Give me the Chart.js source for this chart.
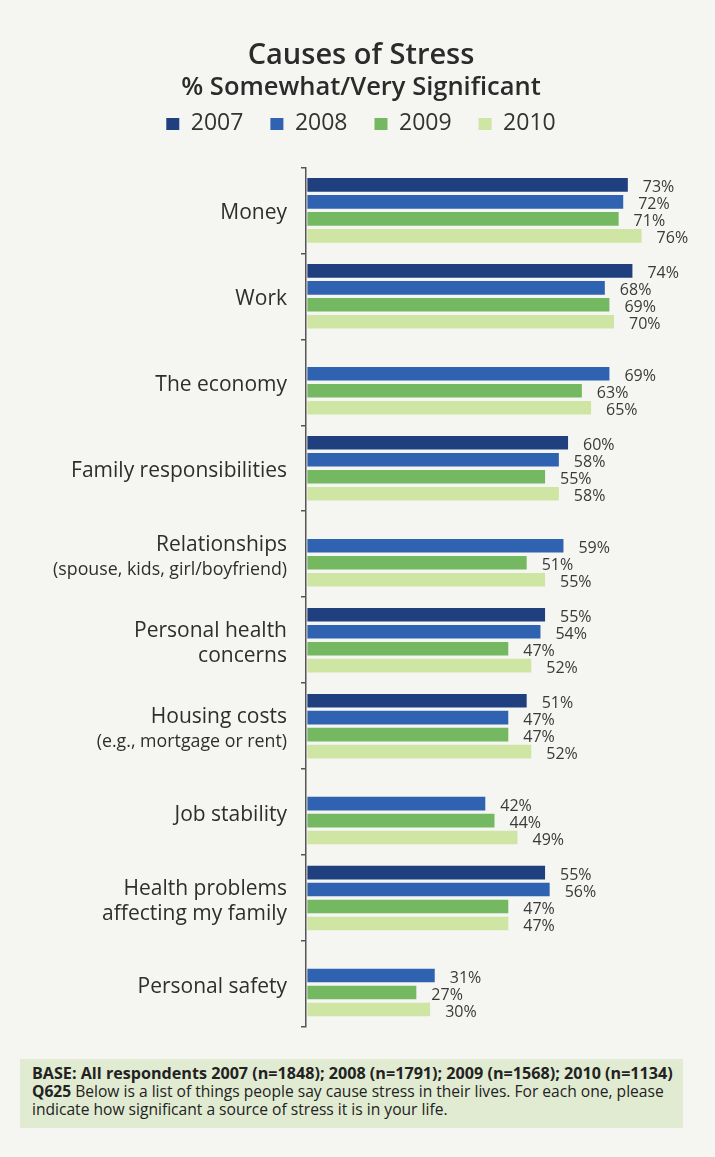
<!DOCTYPE html>
<html lang="en">
<head>
  <meta charset="UTF-8">
  <title>Causes of Stress</title>
  <script src="https://cdn.jsdelivr.net/npm/chart.js"></script>
  <style>
    html, body { margin: 0; padding: 0; background: #f5f5f2; }
    body { width: 715px; height: 1157px; position: relative; overflow: hidden; }
    #wrap { position: absolute; left: 0; top: 0; width: 715px; height: 1157px; }
    .note {
      position: absolute; left: 20px; top: 1059px; width: 663px; height: 69px;
      background: #e1ebd2; padding: 5px 0 0 12px; box-sizing: border-box;
      font-family: "Open Sans", "Noto Sans", sans-serif;
      color: #222; line-height: 18px; white-space: nowrap;
    }
    .note div { font-size: 15px; }
    .note b { font-weight: bold; }
  </style>
</head>
<body>
  <div id="wrap"><canvas id="stressChart" width="715" height="1157"></canvas></div>
  <div class="note">
    <div data-w="641"><b>BASE: All respondents 2007 (n=1848); 2008 (n=1791); 2009 (n=1568); 2010 (n=1134)</b></div>
    <div data-w="632"><b>Q625</b> Below is a list of things people say cause stress in their lives. For each one, please<br>indicate how significant a source of stress it is in your life.</div>
  </div>

  <script>
    const categories = [
      ['Money'],
      ['Work'],
      ['The economy'],
      ['Family responsibilities'],
      ['Relationships', '(spouse, kids, girl/boyfriend)'],
      ['Personal health', 'concerns'],
      ['Housing costs', '(e.g., mortgage or rent)'],
      ['Job stability'],
      ['Health problems', 'affecting my family'],
      ['Personal safety']
    ];
    const years = ['2007', '2008', '2009', '2010'];
    const v2007 = [73, 74, null, 60, null, 55, 51, null, 55, null];
    const v2008 = [72, 68, 69, 58, 59, 54, 47, 42, 56, 31];
    const v2009 = [71, 69, 63, 55, 51, 47, 47, 44, 47, 27];
    const v2010 = [76, 70, 65, 58, 55, 52, 52, 49, 47, 30];

    const colors = ['#1f3f7f', '#2f63b1', '#74b862', '#cfe5a4'];
    const FONT = '"Open Sans", "Noto Sans", sans-serif';
    // second lines in parentheses are printed smaller
    const smallLines = ['(spouse, kids, girl/boyfriend)', '(e.g., mortgage or rent)'];

    const X_MIN = 3.0;

    // squeeze the footer lines to the printed widths
    document.querySelectorAll('.note div').forEach(el => {
      const probe = document.createElement('span');
      probe.innerHTML = el.innerHTML.split('<br>')[0];
      probe.style.whiteSpace = 'nowrap';
      el.appendChild(probe);
      const w = probe.getBoundingClientRect().width;
      el.removeChild(probe);
      el.style.fontSize = (15 * (+el.dataset.w) / w).toFixed(2) + 'px';
    });

    // category names drawn at the left of the axis
    const categoryLabels = {
      id: 'categoryLabels',
      afterDraw(chart) {
        const ctx = chart.ctx;
        const y = chart.scales.y;
        ctx.save();
        ctx.fillStyle = '#2e2e2e';
        ctx.textAlign = 'right';
        ctx.textBaseline = 'middle';
        categories.forEach((lines, i) => {
          const cy = y.getPixelForTick(i) + 3;
          const top = cy - (lines.length - 1) * 12.5;
          lines.forEach((line, j) => {
            const small = smallLines.includes(line);
            ctx.font = (small ? '17.8px ' : '21px ') + FONT;
            ctx.fillText(line, 287, top + j * 25);
          });
        });
        ctx.restore();
      }
    };

    // percentage text to the right of each bar
    const valueLabels = {
      id: 'valueLabels',
      afterDatasetsDraw(chart) {
        const ctx = chart.ctx;
        ctx.save();
        ctx.font = '16px ' + FONT;
        ctx.fillStyle = '#3a3a3a';
        ctx.textAlign = 'left';
        ctx.textBaseline = 'middle';
        chart.data.datasets.forEach((ds, di) => {
          chart.getDatasetMeta(di).data.forEach((bar, i) => {
            if (ds.data[i] == null) return;
            ctx.fillText(ds.data[i] + '%', bar.x + 15, bar.y + 3);
          });
        });
        ctx.restore();
      }
    };

    // extra room under the legend
    const legendGap = {
      id: 'legendGap',
      beforeInit(chart) {
        const fit = chart.legend.fit;
        chart.legend.fit = function () {
          fit.bind(chart.legend)();
          this.height += 22;
        };
      }
    };

    new Chart(document.getElementById('stressChart'), {
      type: 'bar',
      data: {
        labels: categories.map(c => c.join(' ')),
        datasets: [v2007, v2008, v2009, v2010].map((d, i) => ({
          label: years[i],
          data: d,
          backgroundColor: colors[i],
          base: X_MIN + 0.3,
          categoryPercentage: 0.79,
          barPercentage: 0.8
        }))
      },
      options: {
        indexAxis: 'y',
        responsive: false,
        animation: false,
        layout: { padding: { top: 0, left: 62, right: 55, bottom: 130 } },
        scales: {
          x: { display: false, min: X_MIN, max: 80 },
          y: {
            afterFit(scale) { scale.width = 244; },
            ticks: { display: false },
            grid: { offset: true, drawOnChartArea: false, tickLength: 5, color: '#555', lineWidth: 1.5 },
            border: { display: true, color: '#555', width: 1.5 }
          }
        },
        plugins: {
          title: {
            display: true,
            text: 'Causes of Stress',
            color: '#2b2b2b',
            font: { family: FONT, size: 29, weight: '600', lineHeight: 1.2 },
            padding: { top: 38, bottom: 0 }
          },
          subtitle: {
            display: true,
            text: '% Somewhat/Very Significant',
            color: '#2b2b2b',
            font: { family: FONT, size: 25.5, weight: '600', lineHeight: 1.2 },
            padding: { top: 0, bottom: -18 }
          },
          legend: {
            display: true,
            labels: {
              color: '#333',
              font: { family: FONT, size: 23 },
              boxWidth: 13,
              boxHeight: 12,
              padding: 27
            }
          },
          tooltip: { enabled: false }
        }
      },
      plugins: [legendGap, categoryLabels, valueLabels]
    });
  </script>
</body>
</html>
